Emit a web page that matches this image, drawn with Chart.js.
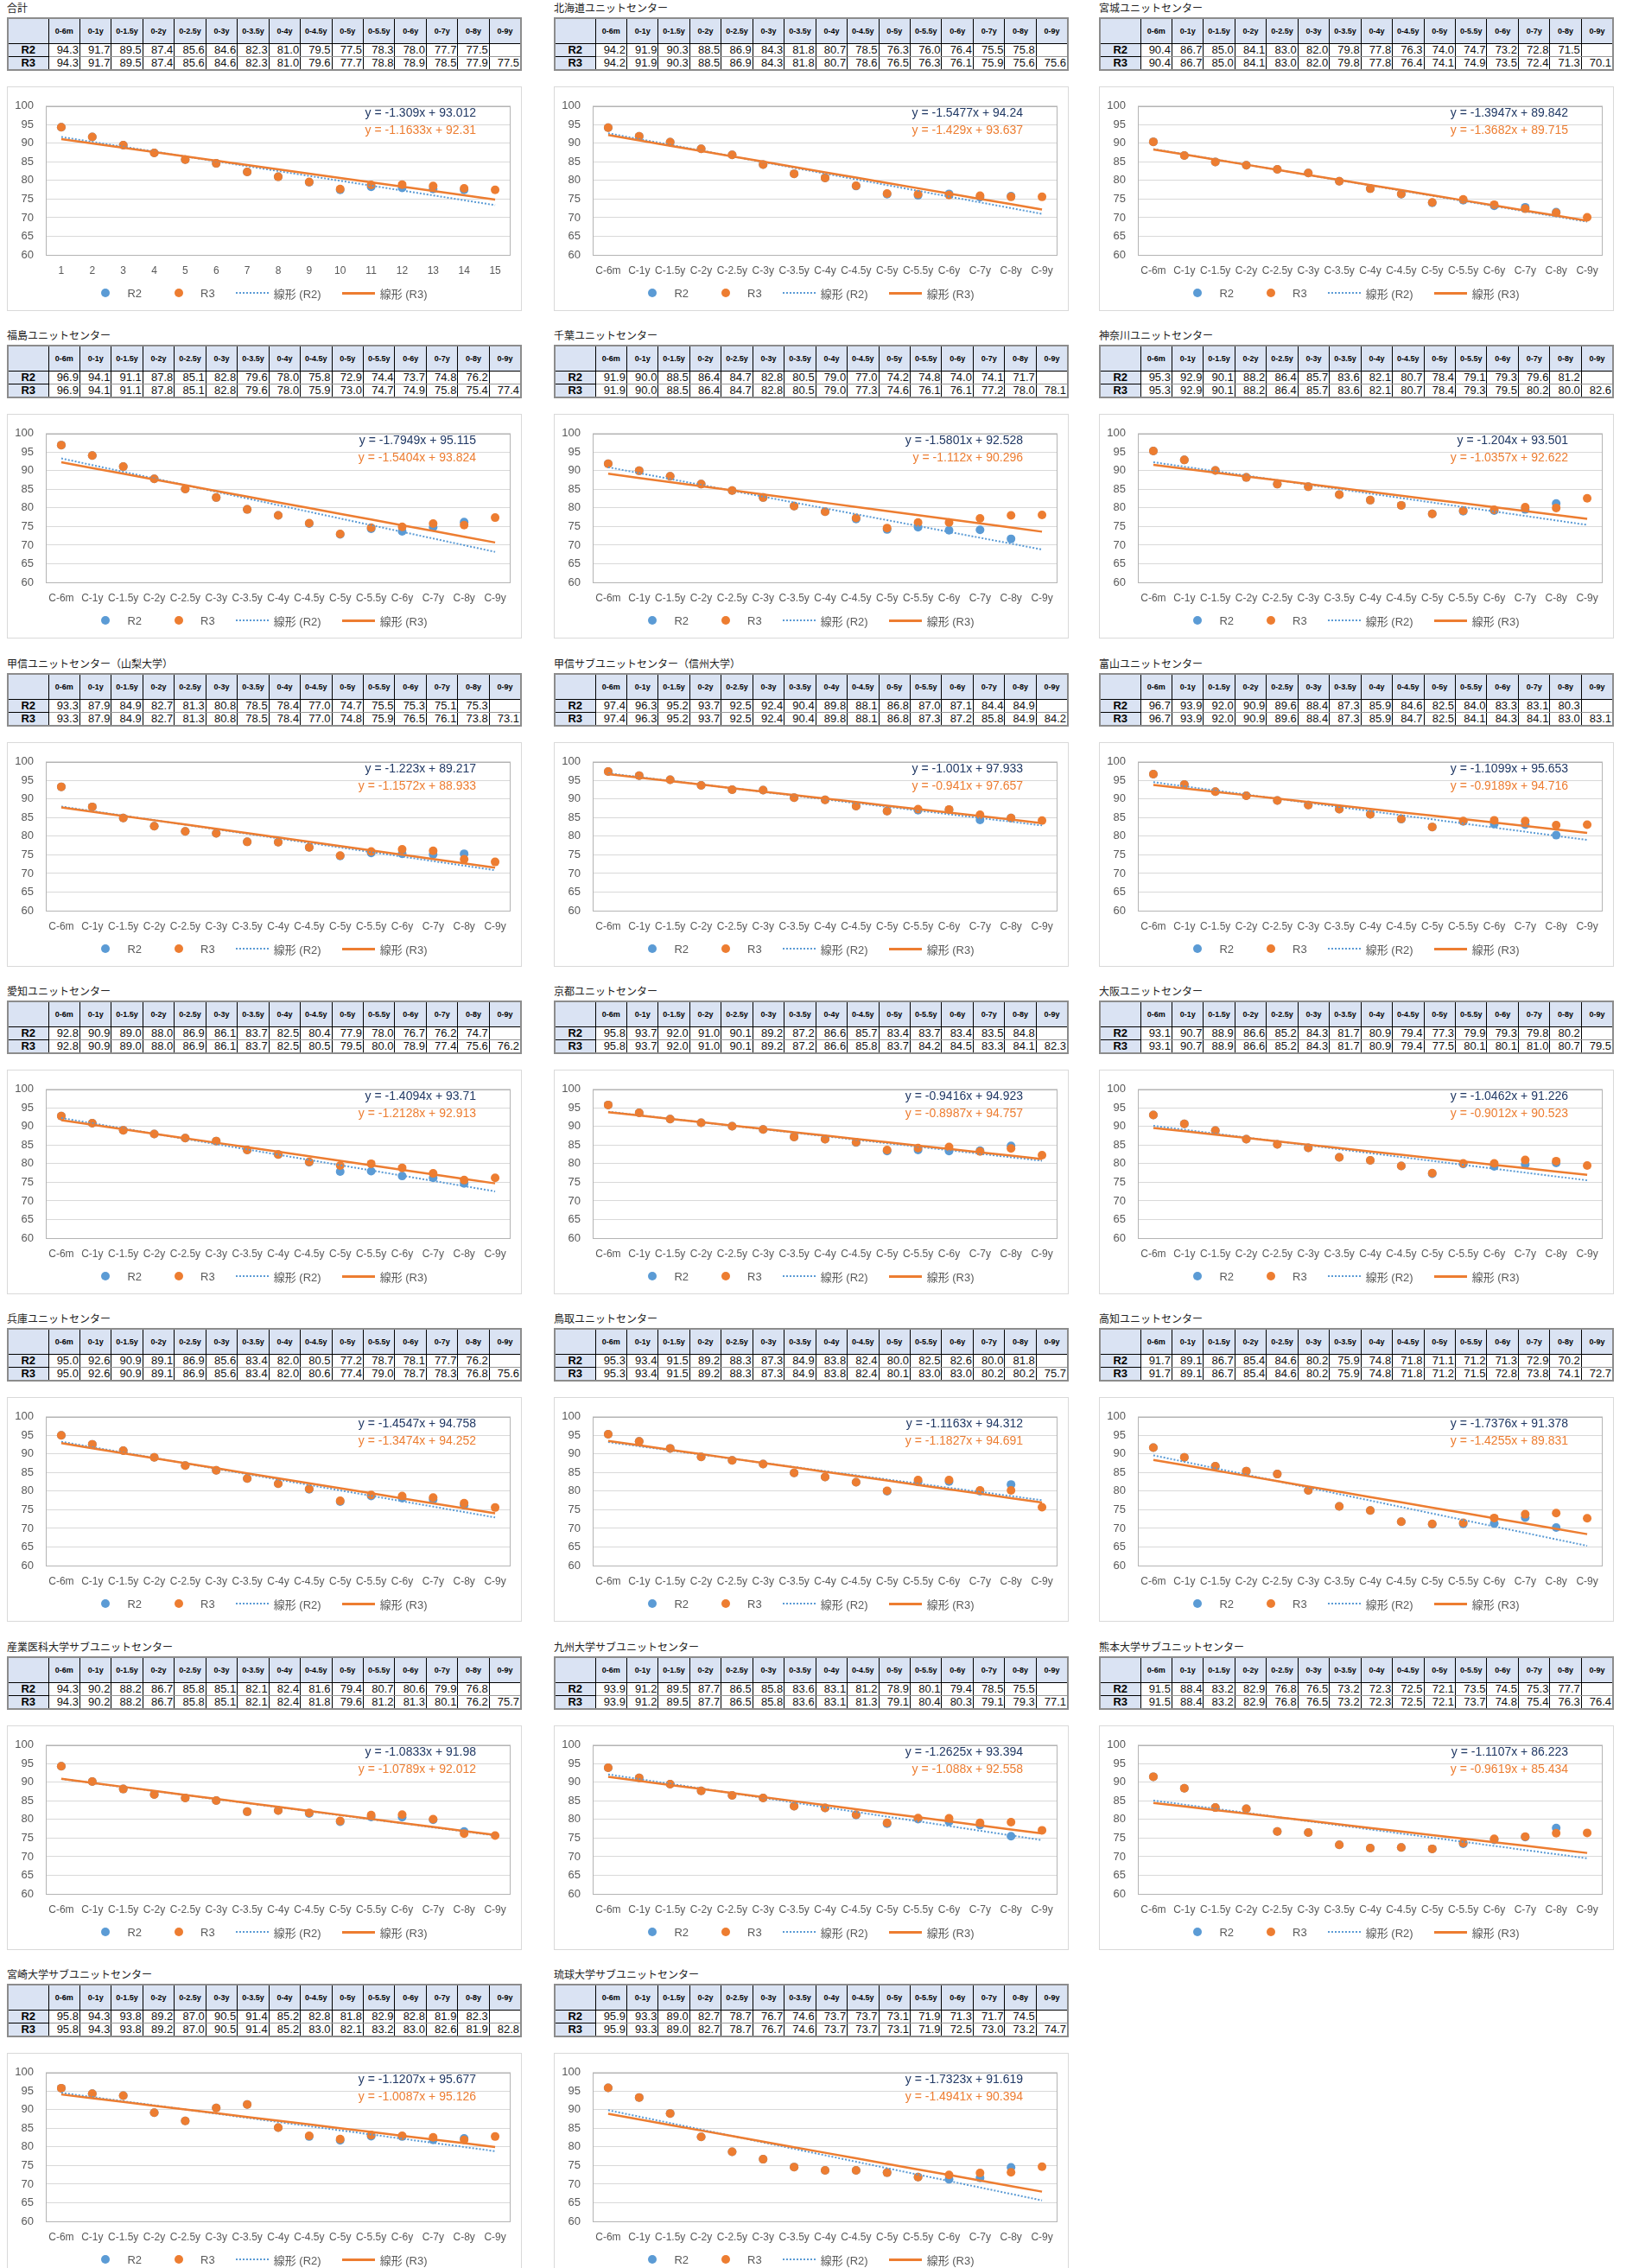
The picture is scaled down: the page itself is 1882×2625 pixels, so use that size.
<!DOCTYPE html>
<html>
<head>
<meta charset="utf-8">
<script src="https://cdn.jsdelivr.net/npm/chart.js@4.4.1/dist/chart.umd.min.js"></script>
<style>
body{margin:0;background:#fff;width:1882px;height:2625px;position:relative;overflow:hidden;font-family:"Liberation Sans","Noto Sans CJK JP",sans-serif;}
.panel{position:absolute;width:596px;height:362px;}
.ttl{position:absolute;left:0;top:1px;font-size:12px;line-height:15px;color:#222;font-family:"Noto Sans CJK JP",sans-serif;}
table{position:absolute;left:0;top:20px;width:596px;border-collapse:collapse;table-layout:fixed;border:2px solid #8c8c8c;}
th,td{border:1px solid #000;padding:0 2px;overflow:hidden;white-space:nowrap;}
thead th{height:28px;background:#dae3f3;font-size:9px;font-weight:bold;text-align:center;padding:0;}
tbody th{height:14px;background:#dae3f3;font-size:13px;font-weight:bold;text-align:center;line-height:14px;}
tbody td{height:14px;font-size:13px;text-align:right;line-height:14px;color:#111;border-top-color:#999;border-bottom-color:#999;padding:0 1px;}
.box{position:absolute;left:0;top:100px;width:594px;height:258px;border:1px solid #d9d9d9;background:#fff;}
.cw{position:absolute;left:0;top:0;width:594px;height:258px;}
.lg{position:absolute;left:0;right:0;top:229px;height:18px;display:flex;justify-content:center;align-items:center;font-size:13px;color:#595959;}
.it{display:flex;align-items:center;margin:0 12px;}
.dot{width:10px;height:10px;border-radius:50%;margin-right:20px;}
.ln{width:38px;height:0;margin-right:6px;}
</style>
</head>
<body>
<script>
// ---- data ----
var titles = ["合計", "北海道ユニットセンター", "宮城ユニットセンター",
  "福島ユニットセンター", "千葉ユニットセンター", "神奈川ユニットセンター",
  "甲信ユニットセンター（山梨大学）", "甲信サブユニットセンター（信州大学）", "富山ユニットセンター",
  "愛知ユニットセンター", "京都ユニットセンター", "大阪ユニットセンター",
  "兵庫ユニットセンター", "鳥取ユニットセンター", "高知ユニットセンター",
  "産業医科大学サブユニットセンター", "九州大学サブユニットセンター", "熊本大学サブユニットセンター",
  "宮崎大学サブユニットセンター", "琉球大学サブユニットセンター"];

var headLabels = ["0-6m", "0-1y", "0-1.5y", "0-2y", "0-2.5y", "0-3y", "0-3.5y", "0-4y",
  "0-4.5y", "0-5y", "0-5.5y", "0-6y", "0-7y", "0-8y", "0-9y"];
var axisLabels = ["C-6m", "C-1y", "C-1.5y", "C-2y", "C-2.5y", "C-3y", "C-3.5y", "C-4y",
  "C-4.5y", "C-5y", "C-5.5y", "C-6y", "C-7y", "C-8y", "C-9y"];
var numLabels = ["1", "2", "3", "4", "5", "6", "7", "8", "9", "10", "11", "12", "13", "14", "15"];
var yTicks = [60, 65, 70, 75, 80, 85, 90, 95, 100];

var r2 = [
  [94.3, 91.7, 89.5, 87.4, 85.6, 84.6, 82.3, 81.0, 79.5, 77.5, 78.3, 78.0, 77.7, 77.5],
  [94.2, 91.9, 90.3, 88.5, 86.9, 84.3, 81.8, 80.7, 78.5, 76.3, 76.0, 76.4, 75.5, 75.8],
  [90.4, 86.7, 85.0, 84.1, 83.0, 82.0, 79.8, 77.8, 76.3, 74.0, 74.7, 73.2, 72.8, 71.5],
  [96.9, 94.1, 91.1, 87.8, 85.1, 82.8, 79.6, 78.0, 75.8, 72.9, 74.4, 73.7, 74.8, 76.2],
  [91.9, 90.0, 88.5, 86.4, 84.7, 82.8, 80.5, 79.0, 77.0, 74.2, 74.8, 74.0, 74.1, 71.7],
  [95.3, 92.9, 90.1, 88.2, 86.4, 85.7, 83.6, 82.1, 80.7, 78.4, 79.1, 79.3, 79.6, 81.2],
  [93.3, 87.9, 84.9, 82.7, 81.3, 80.8, 78.5, 78.4, 77.0, 74.7, 75.5, 75.3, 75.1, 75.3],
  [97.4, 96.3, 95.2, 93.7, 92.5, 92.4, 90.4, 89.8, 88.1, 86.8, 87.0, 87.1, 84.4, 84.9],
  [96.7, 93.9, 92.0, 90.9, 89.6, 88.4, 87.3, 85.9, 84.6, 82.5, 84.0, 83.3, 83.1, 80.3],
  [92.8, 90.9, 89.0, 88.0, 86.9, 86.1, 83.7, 82.5, 80.4, 77.9, 78.0, 76.7, 76.2, 74.7],
  [95.8, 93.7, 92.0, 91.0, 90.1, 89.2, 87.2, 86.6, 85.7, 83.4, 83.7, 83.4, 83.5, 84.8],
  [93.1, 90.7, 88.9, 86.6, 85.2, 84.3, 81.7, 80.9, 79.4, 77.3, 79.9, 79.3, 79.8, 80.2],
  [95.0, 92.6, 90.9, 89.1, 86.9, 85.6, 83.4, 82.0, 80.5, 77.2, 78.7, 78.1, 77.7, 76.2],
  [95.3, 93.4, 91.5, 89.2, 88.3, 87.3, 84.9, 83.8, 82.4, 80.0, 82.5, 82.6, 80.0, 81.8],
  [91.7, 89.1, 86.7, 85.4, 84.6, 80.2, 75.9, 74.8, 71.8, 71.1, 71.2, 71.3, 72.9, 70.2],
  [94.3, 90.2, 88.2, 86.7, 85.8, 85.1, 82.1, 82.4, 81.6, 79.4, 80.7, 80.6, 79.9, 76.8],
  [93.9, 91.2, 89.5, 87.7, 86.5, 85.8, 83.6, 83.1, 81.2, 78.9, 80.1, 79.4, 78.5, 75.5],
  [91.5, 88.4, 83.2, 82.9, 76.8, 76.5, 73.2, 72.3, 72.5, 72.1, 73.5, 74.5, 75.3, 77.7],
  [95.8, 94.3, 93.8, 89.2, 87.0, 90.5, 91.4, 85.2, 82.8, 81.8, 82.9, 82.8, 81.9, 82.3],
  [95.9, 93.3, 89.0, 82.7, 78.7, 76.7, 74.6, 73.7, 73.7, 73.1, 71.9, 71.3, 71.7, 74.5]
];

var r3 = [
  [94.3, 91.7, 89.5, 87.4, 85.6, 84.6, 82.3, 81.0, 79.6, 77.7, 78.8, 78.9, 78.5, 77.9, 77.5],
  [94.2, 91.9, 90.3, 88.5, 86.9, 84.3, 81.8, 80.7, 78.6, 76.5, 76.3, 76.1, 75.9, 75.6, 75.6],
  [90.4, 86.7, 85.0, 84.1, 83.0, 82.0, 79.8, 77.8, 76.4, 74.1, 74.9, 73.5, 72.4, 71.3, 70.1],
  [96.9, 94.1, 91.1, 87.8, 85.1, 82.8, 79.6, 78.0, 75.9, 73.0, 74.7, 74.9, 75.8, 75.4, 77.4],
  [91.9, 90.0, 88.5, 86.4, 84.7, 82.8, 80.5, 79.0, 77.3, 74.6, 76.1, 76.1, 77.2, 78.0, 78.1],
  [95.3, 92.9, 90.1, 88.2, 86.4, 85.7, 83.6, 82.1, 80.7, 78.4, 79.3, 79.5, 80.2, 80.0, 82.6],
  [93.3, 87.9, 84.9, 82.7, 81.3, 80.8, 78.5, 78.4, 77.0, 74.8, 75.9, 76.5, 76.1, 73.8, 73.1],
  [97.4, 96.3, 95.2, 93.7, 92.5, 92.4, 90.4, 89.8, 88.1, 86.8, 87.3, 87.2, 85.8, 84.9, 84.2],
  [96.7, 93.9, 92.0, 90.9, 89.6, 88.4, 87.3, 85.9, 84.7, 82.5, 84.1, 84.3, 84.1, 83.0, 83.1],
  [92.8, 90.9, 89.0, 88.0, 86.9, 86.1, 83.7, 82.5, 80.5, 79.5, 80.0, 78.9, 77.4, 75.6, 76.2],
  [95.8, 93.7, 92.0, 91.0, 90.1, 89.2, 87.2, 86.6, 85.8, 83.7, 84.2, 84.5, 83.3, 84.1, 82.3],
  [93.1, 90.7, 88.9, 86.6, 85.2, 84.3, 81.7, 80.9, 79.4, 77.5, 80.1, 80.1, 81.0, 80.7, 79.5],
  [95.0, 92.6, 90.9, 89.1, 86.9, 85.6, 83.4, 82.0, 80.6, 77.4, 79.0, 78.7, 78.3, 76.8, 75.6],
  [95.3, 93.4, 91.5, 89.2, 88.3, 87.3, 84.9, 83.8, 82.4, 80.1, 83.0, 83.0, 80.2, 80.2, 75.7],
  [91.7, 89.1, 86.7, 85.4, 84.6, 80.2, 75.9, 74.8, 71.8, 71.2, 71.5, 72.8, 73.8, 74.1, 72.7],
  [94.3, 90.2, 88.2, 86.7, 85.8, 85.1, 82.1, 82.4, 81.8, 79.6, 81.2, 81.3, 80.1, 76.2, 75.7],
  [93.9, 91.2, 89.5, 87.7, 86.5, 85.8, 83.6, 83.1, 81.3, 79.1, 80.4, 80.3, 79.1, 79.3, 77.1],
  [91.5, 88.4, 83.2, 82.9, 76.8, 76.5, 73.2, 72.3, 72.5, 72.1, 73.7, 74.8, 75.4, 76.3, 76.4],
  [95.8, 94.3, 93.8, 89.2, 87.0, 90.5, 91.4, 85.2, 83.0, 82.1, 83.2, 83.0, 82.6, 81.9, 82.8],
  [95.9, 93.3, 89.0, 82.7, 78.7, 76.7, 74.6, 73.7, 73.7, 73.1, 71.9, 72.5, 73.0, 73.2, 74.7]
];

// trendline equations as printed on each chart
var r2Slope = [-1.309, -1.5477, -1.3947, -1.7949, -1.5801, -1.204, -1.223, -1.001, -1.1099, -1.4094,
  -0.9416, -1.0462, -1.4547, -1.1163, -1.7376, -1.0833, -1.2625, -1.1107, -1.1207, -1.7323];
var r2Icpt = [93.012, 94.24, 89.842, 95.115, 92.528, 93.501, 89.217, 97.933, 95.653, 93.71,
  94.923, 91.226, 94.758, 94.312, 91.378, 91.98, 93.394, 86.223, 95.677, 91.619];
var r3Slope = [-1.1633, -1.429, -1.3682, -1.5404, -1.112, -1.0357, -1.1572, -0.941, -0.9189, -1.2128,
  -0.8987, -0.9012, -1.3474, -1.1827, -1.4255, -1.0789, -1.088, -0.9619, -1.0087, -1.4941];
var r3Icpt = [92.31, 93.637, 89.715, 93.824, 90.296, 92.622, 88.933, 97.657, 94.716, 92.913,
  94.757, 90.523, 94.252, 94.691, 89.831, 92.012, 92.558, 85.434, 95.126, 90.394];

var BLUE = '#5b9bd5';
var ORANGE = '#ed7d31';
var colX = [8, 641, 1272];
var rowGap = 379.3;

var frame = {
  id: 'frame',
  beforeDatasetsDraw: function (chart) {
    var a = chart.chartArea, c = chart.ctx;
    c.save();
    c.strokeStyle = '#b4b4b4';
    c.lineWidth = 1;
    c.strokeRect(Math.round(a.left) + 0.5, Math.round(a.top) + 0.5, Math.round(a.width) - 1, Math.round(a.height));
    c.restore();
  },
  afterDraw: function (chart, args, opts) {
    var a = chart.chartArea, c = chart.ctx;
    c.save();
    c.font = '14px "Liberation Sans Narrow", "Liberation Sans", sans-serif';
    c.textAlign = 'right';
    c.textBaseline = 'middle';
    c.fillStyle = '#203864';
    c.fillText(opts.eq2, a.right - 40, a.top + 8);
    c.fillStyle = ORANGE;
    c.fillText(opts.eq3, a.right - 40, a.top + 28);
    c.restore();
  }
};

function eqText(m, b) {
  return 'y = ' + m + 'x + ' + b;
}

function cell(tag, txt) {
  return '<' + tag + '>' + txt + '</' + tag + '>';
}

function legendHtml() {
  return '<div class="lg">' +
    '<div class="it"><div class="dot" style="background:' + BLUE + '"></div>R2</div>' +
    '<div class="it" style="margin-left:26px"><div class="dot" style="background:' + ORANGE + '"></div>R3</div>' +
    '<div class="it"><div class="ln" style="border-top:2px dotted ' + BLUE + '"></div>線形 (R2)</div>' +
    '<div class="it"><div class="ln" style="border-top:3px solid ' + ORANGE + '"></div>線形 (R3)</div>' +
    '</div>';
}

titles.forEach(function (name, i) {
  var p = document.createElement('div');
  p.className = 'panel';
  p.style.left = colX[i % 3] + 'px';
  p.style.top = Math.round(Math.floor(i / 3) * rowGap) + 'px';

  var h = '<div class="ttl">' + name + '</div><table><colgroup><col style="width:47px">';
  headLabels.forEach(function () { h += '<col>'; });
  h += '</colgroup><thead><tr><th></th>';
  headLabels.forEach(function (l) { h += cell('th', l); });
  h += '</tr></thead><tbody><tr><th>R2</th>';
  headLabels.forEach(function (l, k) { h += cell('td', r2[i][k] != null ? r2[i][k].toFixed(1) : ''); });
  h += '</tr><tr><th>R3</th>';
  headLabels.forEach(function (l, k) { h += cell('td', r3[i][k] != null ? r3[i][k].toFixed(1) : ''); });
  h += '</tr></tbody></table>';
  h += '<div class="box"><div class="cw"><canvas></canvas></div>' + legendHtml() + '</div>';
  p.innerHTML = h;
  document.body.appendChild(p);

  var labels = i === 0 ? numLabels : axisLabels;
  var trend = function (m, b) {
    return labels.map(function (l, k) { return m * (k + 1) + b; });
  };

  new Chart(p.querySelector('canvas'), {
    type: 'line',
    data: {
      labels: labels,
      datasets: [
        { label: 'R2', data: r2[i], showLine: false, pointRadius: 5, pointBorderWidth: 0,
          pointBackgroundColor: BLUE, borderColor: BLUE, order: 3 },
        { label: 'R3', data: r3[i], showLine: false, pointRadius: 5, pointBorderWidth: 0,
          pointBackgroundColor: ORANGE, borderColor: ORANGE, order: 2 },
        { label: '線形 (R2)', data: trend(r2Slope[i], r2Icpt[i]), borderColor: BLUE, borderWidth: 2,
          borderDash: [2, 2], pointRadius: 0, fill: false, order: 1 },
        { label: '線形 (R3)', data: trend(r3Slope[i], r3Icpt[i]), borderColor: ORANGE, borderWidth: 2.5,
          pointRadius: 0, fill: false, order: 0 }
      ]
    },
    options: {
      responsive: true,
      maintainAspectRatio: false,
      animation: false,
      events: [],
      layout: { padding: { left: 8, right: 12, top: 16, bottom: 38 } },
      scales: {
        x: {
          offset: true,
          grid: { display: false, drawTicks: false },
          border: { display: false },
          ticks: { autoSkip: false, maxRotation: 0, minRotation: 0, padding: 11, color: '#595959',
            font: { size: 12, family: '"Liberation Sans", sans-serif' } },
          afterFit: function (s) { s.height = 26; }
        },
        y: {
          min: yTicks[0],
          max: yTicks[yTicks.length - 1],
          grid: { color: '#d9d9d9', drawTicks: false },
          border: { display: false },
          ticks: { stepSize: yTicks[1] - yTicks[0], padding: 14, color: '#595959',
            font: { size: 13, family: '"Liberation Sans", sans-serif' } },
          afterFit: function (s) { s.width = 36; }
        }
      },
      plugins: {
        legend: { display: false },
        tooltip: { enabled: false },
        frame: { eq2: eqText(r2Slope[i], r2Icpt[i]), eq3: eqText(r3Slope[i], r3Icpt[i]) }
      }
    },
    plugins: [frame]
  });
});
</script>
</body>
</html>
